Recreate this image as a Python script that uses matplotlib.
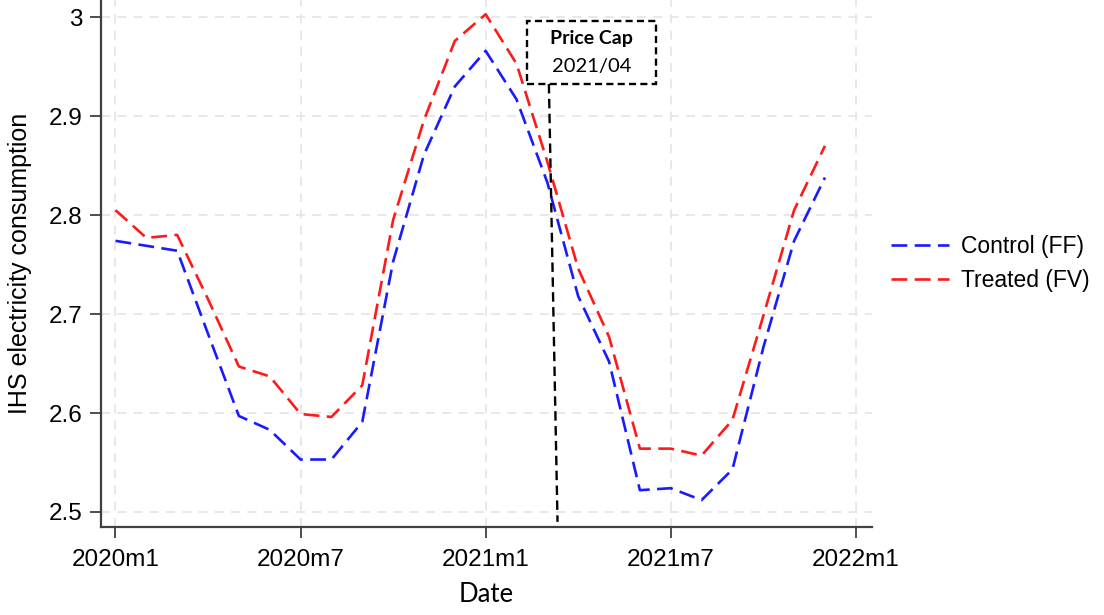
import numpy as np
import matplotlib.pyplot as plt
from matplotlib.patches import Rectangle

# monthly data, 2020m1 .. 2021m12
months = np.arange(24)
control = [2.774, 2.769, 2.764, 2.680, 2.597, 2.583, 2.553, 2.553, 2.591, 2.753, 2.861, 2.930,
           2.966, 2.917, 2.833, 2.718, 2.652, 2.522, 2.524, 2.512, 2.543, 2.666, 2.774, 2.838]
treated = [2.805, 2.777, 2.780, 2.715, 2.647, 2.637, 2.599, 2.596, 2.628, 2.795, 2.896, 2.976,
           3.003, 2.953, 2.854, 2.746, 2.677, 2.564, 2.564, 2.557, 2.593, 2.698, 2.805, 2.870]

xticks = [0, 6, 12, 18, 24]
xlabels = ['2020m1', '2020m7', '2021m1', '2021m7', '2022m1']
yticks = [2.5, 2.6, 2.7, 2.8, 2.9, 3.0]
ylabels = ['2.5', '2.6', '2.7', '2.8', '2.9', '3']

cap_x = 14.15  # price cap line position (months)

plt.rcParams['font.family'] = ['Liberation Sans', 'DejaVu Sans']

fig = plt.figure(figsize=(11.04, 6.15), dpi=100)
ax = fig.add_axes([0.0912, 0.1431, 0.6988, 0.8569])

dash = (0, (6, 2.8))
ax.plot(months, control, color='#1a1aff', lw=1.9, linestyle=dash, label='Control (FF)')
ax.plot(months, treated, color='#ff1a1a', lw=1.9, linestyle=dash, label='Treated (FV)')

# price cap marker
ax.plot([cap_x - 0.1, cap_x + 0.18], [2.9325, 2.49], color='black', lw=1.7,
        linestyle=(0, (4, 2.3)), zorder=4)
ax.add_patch(Rectangle((13.33, 2.9325), 17.52 - 13.33, 2.9966 - 2.9325, fc='white',
                       ec='black', lw=1.7, linestyle=(0, (3, 1.8)), zorder=5))
ax.text(15.43, 2.978, 'Price Cap', ha='center', va='center', fontsize=14,
        fontweight='bold', family='Lato', zorder=6)
ax.text(15.43, 2.950, '2021/04', ha='center', va='center', fontsize=14.5,
        family='Lato', zorder=6)

ax.set_xlim(-0.48, 24.53)
ax.set_ylim(2.4848, 3.0174)
ax.set_xticks(xticks)
ax.set_xticklabels(xlabels, fontsize=17.5)
ax.set_yticks(yticks)
ax.set_yticklabels(ylabels, fontsize=17.5)
ax.grid(True, color='#e6e6e6', lw=1.3, linestyle=(0, (5, 4)))
ax.set_axisbelow(True)

for s in ['top', 'right']:
    ax.spines[s].set_visible(False)
for s in ['left', 'bottom']:
    ax.spines[s].set_color('#404040')
    ax.spines[s].set_linewidth(1.6)
ax.tick_params(axis='both', length=8, width=1.3, color='#404040', pad=5)
ax.tick_params(axis='x', pad=8)

ax.set_ylabel('IHS electricity consumption', fontsize=18, labelpad=12)
ax.set_xlabel('Date', fontsize=18.5, family='Lato', labelpad=8)

fig.legend(loc='center left', bbox_to_anchor=(0.797, 0.5715), frameon=False, fontsize=16.5,
           handlelength=2.5, handletextpad=0.55, labelspacing=0.5, borderpad=0)

fig.savefig('out.png', dpi=100)
